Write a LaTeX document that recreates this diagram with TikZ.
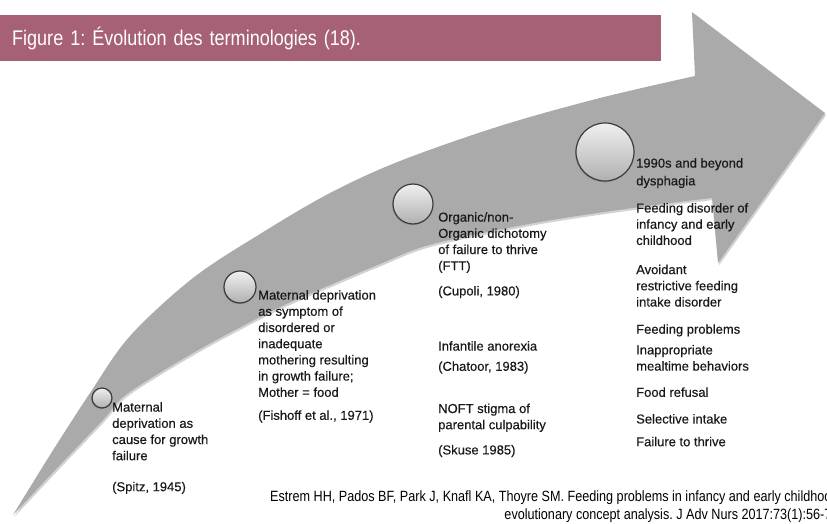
\documentclass[tikz,border=0pt]{standalone}
\usepackage{fontspec}
\setmainfont{Liberation Sans}
\newfontfamily\condfont{Liberation Sans}[FakeStretch=0.85]
\newfontfamily\termfont{Liberation Sans}[FakeBold=0.35]
\frenchspacing
\usetikzlibrary{shadows, calc}
\definecolor{TitleRose}{RGB}{167, 97, 116}
\definecolor{ArrowGray}{RGB}{170, 170, 170}
\definecolor{DarkText}{RGB}{25, 25, 25}
\definecolor{RimGray}{RGB}{60, 60, 60}

\tikzset{
    milestone/.style={circle, draw=RimGray, line width=1.2pt, top color=gray!12, bottom color=gray!62,
        inner sep=0pt, drop shadow={shadow xshift=-0.8pt, shadow yshift=-1.2pt, opacity=0.45}},
    termtext/.style={anchor=north west, align=left, inner sep=0pt, text=DarkText,
        font=\termfont\fontsize{13}{16.2}\selectfont},
}

\begin{document}
\begin{tikzpicture}[x=1pt, y=-1pt]
        \useasboundingbox (0,0) rectangle (827,524);
        \fill[white] (0,0) rectangle (827,524);

        % Curved timeline arrow
        \fill[ArrowGray, drop shadow={shadow xshift=1.2pt, shadow yshift=-2pt, opacity=0.35}] (13,515)
            -- plot[smooth, tension=0.55] coordinates {(13,515) (50,455) (90,393) (130,336) (193,278) (260,234) (330,193) (400,161) (500,126) (600,98) (695,76)}
            -- (692,12) -- (825,113) -- (718,263) -- (712,198)
            -- plot[smooth, tension=0.55] coordinates {(712,198) (640,207) (540,222) (433,244) (380,264) (300,298) (260,317) (193,353) (127,394) (103,420) (60,465) (13,515)}
            -- cycle;

        % Title bar
        \node[fill=TitleRose, text=white, anchor=north west, minimum height=46pt, text width=637pt,
            inner xsep=12pt, align=left, font=\condfont\fontsize{21.2}{24}\selectfont] (figtitle) at (0,15)
            {Figure 1: Évolution des terminologies (18).};

        % Milestones along the arrow
        \node[milestone, minimum size=20pt] (spitz) at (102,398) {};
        \node[milestone, minimum size=32pt] (fishoff) at (240,287) {};
        \node[milestone, minimum size=40pt] (cupoli) at (413,204) {};
        \node[milestone, minimum size=58pt] (nineties) at (605,152) {};

        % Terms for each period
        \node[termtext] (spitztext) at (112,402) {Maternal\\ deprivation as\\ cause for growth\\ failure\\[14.8pt] (Spitz, 1945)};
        \node[termtext] (fishofftext) at (258,290) {Maternal deprivation\\ as symptom of\\ disordered or\\ inadequate\\ mothering resulting\\ in growth failure;\\ Mother = food\\[6.8pt] (Fishoff et al., 1971)};
        \node[termtext] (cupolitext) at (438,212) {Organic/non-\\ Organic dichotomy\\ of failure to thrive\\ (FTT)\\[9pt] (Cupoli, 1980)\\[39pt] Infantile anorexia\\[4pt] (Chatoor, 1983)\\[26pt] NOFT stigma of\\ parental culpability\\[9pt] (Skuse 1985)};
        \node[termtext] (ninetiestext) at (636,158) {1990s and beyond\\[1.5pt] dysphagia\\[11pt] Feeding disorder of\\ infancy and early\\ childhood\\[13pt] Avoidant\\ restrictive feeding\\ intake disorder\\[11pt] Feeding problems\\[4.5pt] Inappropriate\\ mealtime behaviors\\[10pt] Food refusal\\[10.5pt] Selective intake\\[6.5pt] Failure to thrive};

        % Source, cut by the page edge
        \begin{scope}
            \clip (0,0) rectangle (827,524);
            \node[anchor=north west, align=right, inner sep=0pt, text=black,
                font=\condfont\fontsize{14.85}{18}\selectfont] (source) at (270,490.5)
                {Estrem HH, Pados BF, Park J, Knafl KA, Thoyre SM. Feeding problems in infancy and early childhood:\\ evolutionary concept analysis. J Adv Nurs 2017:73(1):56-70.};
        \end{scope}
    \end{tikzpicture}
\end{document}
